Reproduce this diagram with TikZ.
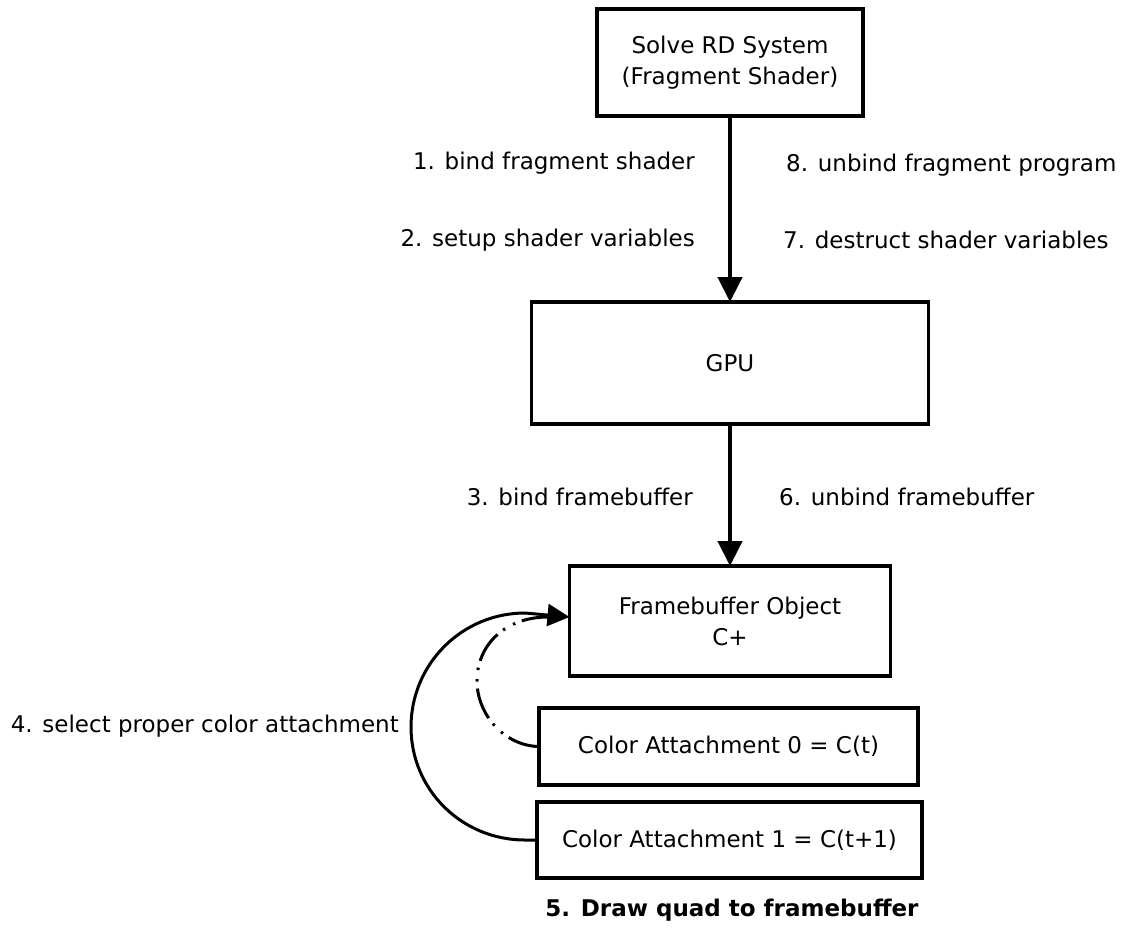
\documentclass[tikz,border=0pt]{standalone}
\usepackage{fontspec}
\setmainfont{DejaVu Sans}
\usetikzlibrary{arrows.meta}
\begin{document}
\begin{tikzpicture}[x=1pt,y=-1pt,
  box/.style={draw=black, line width=3.5pt, inner sep=0pt, outer sep=0pt, align=center, font=\fontsize{23}{31}\selectfont},
  lbl/.style={inner sep=0pt, font=\fontsize{23}{28}\selectfont},
  flow/.style={line width=4.5pt, -{Triangle[length=25pt,width=24pt]}},
  loopline/.style={line width=3pt, -{Triangle[length=22pt,width=22pt]}},
  dashdotdot/.style={dash pattern=on 32pt off 7pt on 2.5pt off 9pt on 2.5pt off 7pt}
]
\useasboundingbox (0,0) rectangle (1123,935);
\fill[white] (0,0) rectangle (1123,935);

\node[box, minimum width=266pt, minimum height=107pt] (rd) at (730,62.5) {Solve RD System\\(Fragment Shader)};
\node[box, minimum width=397pt, minimum height=122pt] (gpu) at (730,363) {GPU};
\node[box, minimum width=321pt, minimum height=110pt] (fbo) at (730,621) {Framebuffer Object\\C+};
\node[box, minimum width=379pt, minimum height=77pt] (ca0) at (728.5,746.5) {Color Attachment 0 = C(t)};
\node[box, minimum width=385pt, minimum height=76pt] (ca1) at (729.5,840) {Color Attachment 1 = C(t+1)};

\node[lbl, anchor=east] (l1) at (695,163) {1. bind fragment shader};
\node[lbl, anchor=east] (l2) at (695,240) {2. setup shader variables};
\node[lbl, anchor=west] (l8) at (786,165) {8. unbind fragment program};
\node[lbl, anchor=west] (l7) at (783,240) {7. destruct shader variables};
\node[lbl, anchor=east] (l3) at (693,497) {3. bind framebuffer};
\node[lbl, anchor=west] (l6) at (779,497) {6. unbind framebuffer};
\node[lbl, anchor=east] (l4) at (399,726) {4. select proper color attachment};
\node[lbl, font=\fontsize{23}{28}\selectfont\bfseries] (l5) at (732,910) {5. Draw quad to framebuffer};

\draw[flow] (rd.south) -- (gpu.north);
\draw[flow] (gpu.south) -- (fbo.north);

\coordinate (tip) at ([yshift=4pt]fbo.west);
\draw[loopline] (ca1.west) -- (525,840) .. controls (462,840) and (411,790) .. (411,727)
  .. controls (411,664) and (462,613) .. (525,613) -- (tip);
\draw[line width=3pt, dashdotdot] (ca0.west) .. controls (505,746) and (477,715) .. (477,681)
  .. controls (477,645) and (505,617) .. (548,617);
\end{tikzpicture}
\end{document}
